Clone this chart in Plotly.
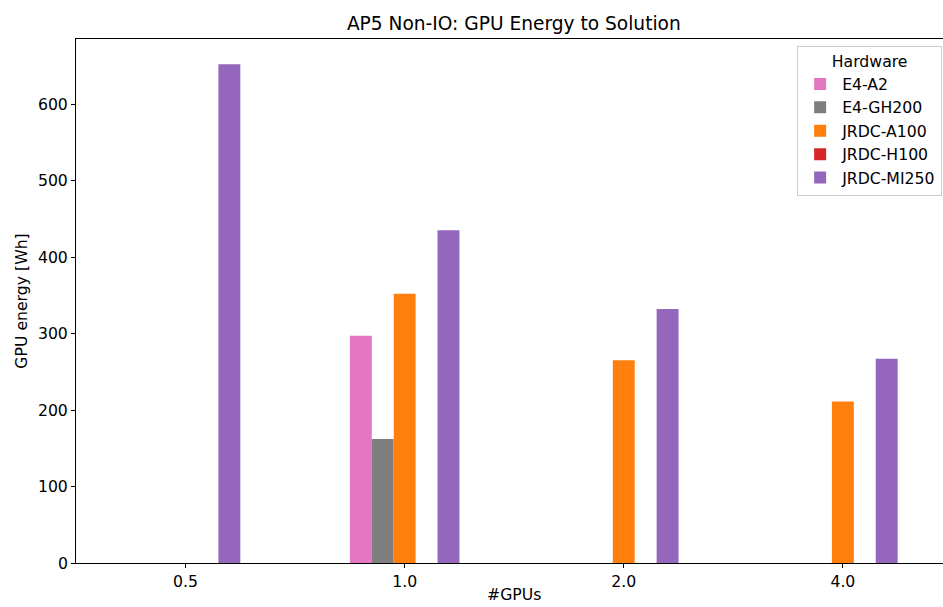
import plotly.graph_objects as go

# Number of GPUs per run (categorical x positions)
gpu_counts = ["0.5", "1.0", "2.0", "4.0"]

# GPU energy to solution [Wh] for each hardware platform
e4_a2 = [0, 297, 0, 0]
e4_gh200 = [0, 162, 0, 0]
jrdc_a100 = [0, 352, 265, 211]
jrdc_h100 = [0, 0, 0, 0]
jrdc_mi250 = [652, 435, 332, 267]

series = [
    ("E4-A2", e4_a2, "#e377c2"),
    ("E4-GH200", e4_gh200, "#7f7f7f"),
    ("JRDC-A100", jrdc_a100, "#ff7f0e"),
    ("JRDC-H100", jrdc_h100, "#d62728"),
    ("JRDC-MI250", jrdc_mi250, "#9467bd"),
]

xpos = list(range(len(gpu_counts)))

fig = go.Figure()
for name, vals, color in series:
    fig.add_trace(go.Bar(
        x=xpos, y=vals, name=name,
        marker=dict(color=color, line=dict(width=0)),
    ))

base = 15.7

fig.update_layout(
    width=943, height=607,
    margin=dict(l=76, r=0, t=39, b=44),
    paper_bgcolor="white", plot_bgcolor="white",
    barmode="group", bargap=0.5, bargroupgap=0,
    font=dict(family="DejaVu Sans", size=base, color="black"),
    title=dict(text="AP5 Non-IO: GPU Energy to Solution",
               x=0.505, xref="paper", xanchor="center",
               y=1 - 23 / 607, yref="container", yanchor="middle",
               font=dict(size=18.6)),
    showlegend=True,
    legend=dict(
        title=dict(text="Hardware", side="top center", font=dict(size=base)),
        x=0.999, xanchor="right", y=0.987, yanchor="top",
        bgcolor="rgba(255,255,255,0.8)", bordercolor="#cccccc", borderwidth=1,
        font=dict(size=base), itemwidth=34,
    ),
    xaxis=dict(
        range=[-0.5, 3.457],
        tickmode="array", tickvals=xpos, ticktext=gpu_counts,
        showline=True, linecolor="black", linewidth=1, mirror=True,
        ticks="outside", ticklen=4, tickcolor="black",
        showgrid=False, zeroline=False,
        tickfont=dict(size=base),
    ),
    yaxis=dict(
        range=[0, 685],
        tickmode="array", tickvals=[0, 100, 200, 300, 400, 500, 600],
        showline=True, linecolor="black", linewidth=1,
        ticks="outside", ticklen=4, tickcolor="black",
        showgrid=False, zeroline=False,
        tickfont=dict(size=base),
        title=dict(text="GPU energy [Wh]", font=dict(size=base), standoff=6),
    ),
    annotations=[dict(
        text="#GPUs", xref="paper", yref="paper",
        x=(514 - 76) / 867, y=-(606 - 563) / 524,
        xanchor="center", yanchor="bottom", showarrow=False,
        font=dict(size=base),
    )],
)

fig.write_html("out.html")
